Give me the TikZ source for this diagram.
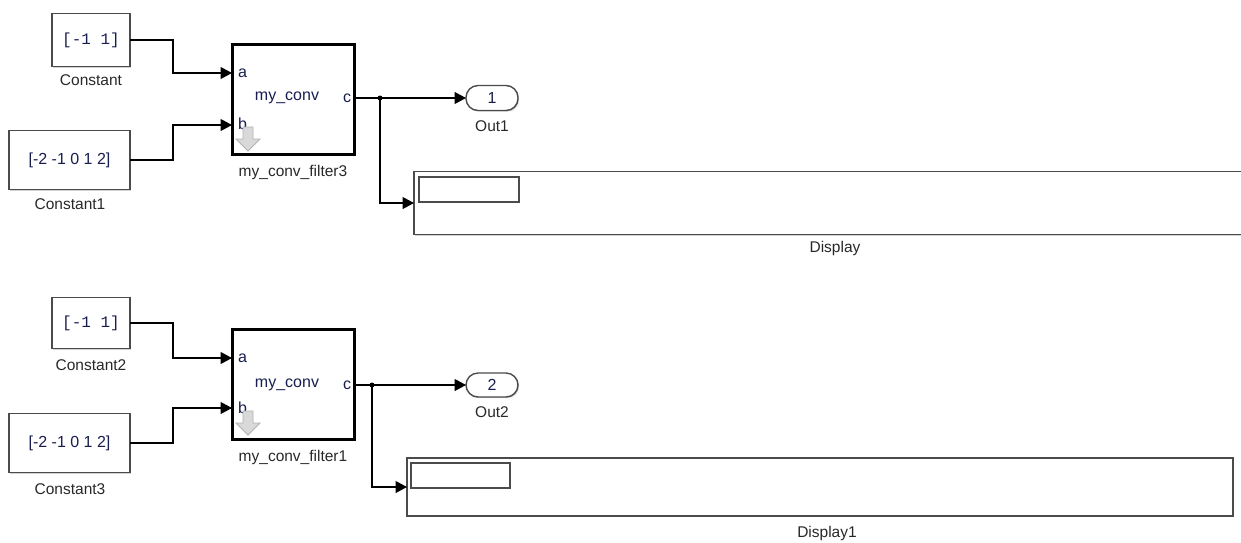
\documentclass[tikz,border=0pt]{standalone}
\usepackage{fontspec}
\setmainfont{Liberation Sans}
\newfontfamily\monofont{Liberation Mono}
\usetikzlibrary{arrows.meta,shadows,calc}
\definecolor{txt}{RGB}{25,30,80}
\definecolor{lbl}{RGB}{40,40,40}
\definecolor{frame}{RGB}{75,75,75}
\tikzset{
  every node/.style={inner sep=0pt, outer sep=0pt},
  shad/.style={drop shadow={shadow xshift=1.2pt, shadow yshift=-1.2pt, fill=black!35, opacity=.5}},
  constbox/.style={draw=frame, line width=1.4pt, fill=white, shad, font=\fontsize{16}{18}\selectfont, text=txt},
  subsys/.style={draw=black, line width=3pt, fill=white, minimum width=122pt, minimum height=110pt},
  outport/.style={draw=frame, line width=1.4pt, fill=white, rounded corners=12pt, shad, minimum width=52pt, minimum height=25pt, font=\fontsize{16}{18}\selectfont, text=txt},
  dispbox/.style={draw=frame, line width=1.6pt, fill=white, shad},
  dispinner/.style={draw=frame, line width=1.4pt},
  lab/.style={font=\fontsize{15.5}{18}\selectfont, text=lbl},
  port/.style={font=\fontsize{16}{18}\selectfont, text=txt},
  sig/.style={draw=black, line width=1.2pt, -{Triangle[length=11.5pt,width=12pt]}},
  wire/.style={draw=black, line width=1.2pt},
  dot/.style={circle, fill=black, minimum size=5pt},
  grayarrow/.style={fill=black!15, draw=black!30, line width=0.8pt}
}
\begin{document}
\begin{tikzpicture}[x=1pt,y=-1pt]
\useasboundingbox (0,0) rectangle (1241,542);

% ---------------- upper system ----------------
\node[constbox, minimum width=78pt, minimum height=53pt] (c0) at (91,40) {\monofont\fontsize{16}{18}\selectfont[-1 1]};
\node[lab] (c0l) at (91,80) {Constant};
\node[constbox, minimum width=121pt, minimum height=59pt] (c1) at (69.5,160) {[-2 -1 0 1 2]};
\node[lab] (c1l) at (70,204) {Constant1};

\node[subsys] (f3) at (293,99) {};
\node[lab] (f3l) at (293,172) {my\_conv\_filter3};
\coordinate (f3a) at (232,73);
\coordinate (f3b) at (232,125);
\coordinate (f3c) at (354,98);
\node[port, anchor=west] (f3pa) at (238,73) {a};
\node[port, anchor=west] (f3pb) at (238,124) {b};
\node[port, anchor=east] (f3pc) at (351,98) {c};
\node[port] (f3n) at (287,98) {my\_conv};
\filldraw[grayarrow] (243,127) -- (253,127) -- (253,139) -- (260,139) -- (248,151) -- (236,139) -- (243,139) -- cycle;

\node[outport] (out1) at (492,98) {1};
\node[lab] (out1l) at (492,126) {Out1};

\node[dispbox, minimum width=831pt, minimum height=63pt] (disp) at (829.5,203) {};
\node[dispinner, minimum width=100pt, minimum height=25pt] (dispi) at (469,189.5) {};
\node[lab] (displ) at (835,248) {Display};

\coordinate (j1) at (380,98);
\draw[sig] (c0.east) -- ++(43,0) |- (f3a);
\draw[sig] (c1.east) -- ++(43,0) |- (f3b);
\draw[wire] (f3c) -- (j1);
\draw[sig] (j1) -- (out1.west);
\draw[sig] (j1) |- (disp.west);
\node[dot] (j1d) at (j1) {};

% ---------------- lower system ----------------
\node[constbox, minimum width=78pt, minimum height=51pt] (c2) at (91,323) {\monofont\fontsize{16}{18}\selectfont[-1 1]};
\node[lab] (c2l) at (91,365) {Constant2};
\node[constbox, minimum width=121pt, minimum height=59pt] (c3) at (69.5,443) {[-2 -1 0 1 2]};
\node[lab] (c3l) at (70,489) {Constant3};

\node[subsys] (f1) at (293,384) {};
\node[lab] (f1l) at (293,457) {my\_conv\_filter1};
\coordinate (f1a) at (232,358);
\coordinate (f1b) at (232,408);
\coordinate (f1c) at (354,385);
\node[port, anchor=west] (f1pa) at (238,358) {a};
\node[port, anchor=west] (f1pb) at (238,408) {b};
\node[port, anchor=east] (f1pc) at (351,385) {c};
\node[port] (f1n) at (287,385) {my\_conv};
\filldraw[grayarrow] (243,411) -- (253,411) -- (253,423) -- (260,423) -- (248,435) -- (236,423) -- (243,423) -- cycle;

\node[outport, minimum height=24pt] (out2) at (492,385) {2};
\node[lab] (out2l) at (492,412) {Out2};

\node[dispbox, minimum width=826pt, minimum height=58pt] (disp1) at (820,487) {};
\node[dispinner, minimum width=99pt, minimum height=25pt] (disp1i) at (460.5,475.5) {};
\node[lab] (disp1l) at (827,533) {Display1};

\coordinate (j2) at (372,385);
\draw[sig] (c2.east) -- ++(43,0) |- (f1a);
\draw[sig] (c3.east) -- ++(43,0) |- (f1b);
\draw[wire] (f1c) -- (j2);
\draw[sig] (j2) -- (out2.west);
\draw[sig] (j2) |- (disp1.west);
\node[dot] (j2d) at (j2) {};
\end{tikzpicture}
\end{document}
